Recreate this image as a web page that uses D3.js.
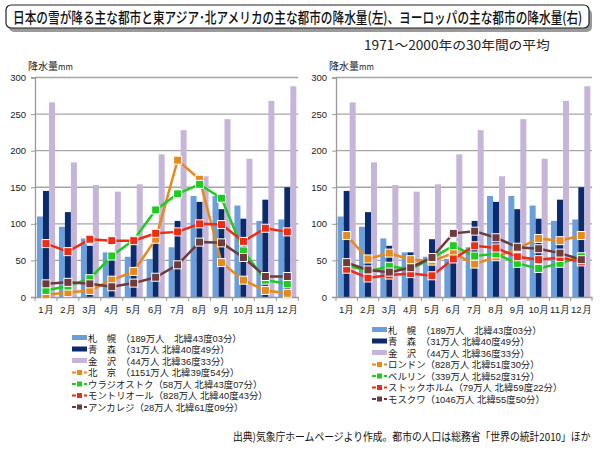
<!DOCTYPE html>
<html><head><meta charset="utf-8">
<script src="https://cdn.jsdelivr.net/npm/d3@7"></script>
<style>body{margin:0;background:#fff}svg{display:block;font-family:"Noto Sans CJK JP","Noto Sans",sans-serif}</style>
</head><body><svg id="c" width="600" height="450"></svg>
<script>
const months = ["1月","2月","3月","4月","5月","6月","7月","8月","9月","10月","11月","12月"];
const yTicks = [0,50,100,150,200,250,300];
// Bars (same in both charts)
const sapporo  = [110,96,80,61,55,52,68,138,138,125,104,106];
const aomori   = [145,116,70,61,79,74,104,130,120,107,133,150];
const kanazawa = [266,184,153,144,154,195,228,165,243,189,268,288];
// Left lines
const beijing  = [3,6,9,23,35,79,187,161,47,23,9,5];
const vladivostok = [9,15,25,56,78,119,141,154,135,63,23,18];
const montreal = [73,62,79,77,77,87,89,100,99,76,94,89];
const anchorage = [18,20,18,14,19,27,44,75,74,54,28,28];
// Right lines
const london = [84,52,60,51,49,60,45,55,66,80,77,84];
const berlin = [44,35,42,38,53,70,56,59,46,39,46,55];
const stockholm = [38,26,30,32,29,52,70,67,55,51,54,48];
const moscow = [47,37,34,40,54,87,90,81,68,66,60,51];

const barNames = ["札　幌　（189万人　北緯43度03分）","青　森　（31万人  北緯40度49分）","金　沢　（44万人  北緯36度33分）"];
const leftNames = ["北　京　（1151万人  北緯39度54分）","ウラジオストク（58万人  北緯43度07分）","モントリオール（828万人  北緯40度43分）","アンカレジ（28万人  北緯61度09分）"];
const rightNames = ["ロンドン（828万人  北緯51度30分）","ベルリン（339万人  北緯52度31分）","ストックホルム（79万人  北緯59度22分）","モスクワ（1046万人  北緯55度50分）"];

const barColors = ["#6a9fdc","#0b2c6c","#c4b5d9"];
const lineColors = ["#e8891e","#1ecb1e","#ee2c14","#6f3a3a"];

const svg = d3.select("#c");

function fitText(x, y, size, width, str, attrs){
  const t = svg.append("text").attr("x",0).attr("y",0).attr("font-size",size).text(str);
  Object.entries(attrs||{}).forEach(([k,v])=>t.attr(k,v));
  const w = t.node().getComputedTextLength();
  t.attr("transform",`translate(${x},${y}) scale(${width/w},1)`);
  return t;
}

// Title box
svg.append("rect").attr("x",9).attr("y",9).attr("width",583).attr("height",23).attr("rx",5).attr("fill","#9a9a9a");
svg.append("rect").attr("x",6).attr("y",5).attr("width",583).attr("height",23).attr("rx",5).attr("fill","#fff").attr("stroke","#222").attr("stroke-width",1.2);
fitText(13,22.5,15,570,"日本の雪が降る主な都市と東アジア･北アメリカの主な都市の降水量(左)、ヨーロッパの主な都市の降水量(右)",{"font-weight":500,"fill":"#111"});
fitText(364,50,12.5,186,"1971～2000年の30年間の平均",{"fill":"#222"});

function chart(x0,x1,lines,names,legX,legY){
  const x = d3.scaleBand().domain(months).range([x0,x1]);
  const y = d3.scaleLinear().domain([0,300]).range([297,77.5]);
  const g = svg.append("g");
  g.selectAll(".grid").data(yTicks.filter(d=>d>0)).join("line")
    .attr("x1",x0).attr("x2",x1).attr("y1",d=>y(d)).attr("y2",d=>y(d))
    .attr("stroke","#a6a6a6").attr("stroke-width",1.3);
  const bw = 6;
  [sapporo,aomori,kanazawa].forEach((arr,i)=>{
    g.selectAll(null).data(arr).join("rect")
      .attr("x",(d,j)=>x(months[j])+x.bandwidth()/2-9+i*bw)
      .attr("width",bw).attr("y",d=>y(d)).attr("height",d=>y(0)-y(d))
      .attr("fill",barColors[i]);
  });
  const ya = d3.axisLeft(y).tickValues(yTicks).tickSize(4).tickPadding(5);
  const yg = g.append("g").attr("transform",`translate(${x0},0)`).call(ya);
  yg.select(".domain").attr("stroke","#999").attr("stroke-width",1.3);
  yg.selectAll(".tick line").attr("stroke","#999");
  yg.selectAll("text").attr("font-size",9.5).attr("fill","#222").attr("font-family","Liberation Sans, Arial, sans-serif");
  const xa = d3.axisBottom(x).tickSize(0).tickPadding(9);
  const xg = g.append("g").attr("transform","translate(0,297)").call(xa);
  xg.select(".domain").attr("stroke","#999").attr("stroke-width",1.3);
  xg.selectAll("text").attr("font-size",9.5).attr("fill","#222");
  g.selectAll(null).data(d3.range(13)).join("line")
    .attr("x1",i=>x0+i*x.step()).attr("x2",i=>x0+i*x.step()).attr("y1",297).attr("y2",301)
    .attr("stroke","#999");
  const yl = g.append("text").attr("x",x0-7).attr("y",70).attr("fill","#222");
  yl.append("tspan").attr("font-size",10).text("降水量");
  yl.append("tspan").attr("font-size",8).text("mm");
  const line = d3.line().x((d,j)=>x(months[j])+x.bandwidth()/2).y(d=>y(d));
  lines.forEach((arr,i)=>{
    g.append("path").datum(arr).attr("d",line).attr("fill","none").attr("stroke",lineColors[i]).attr("stroke-width",2.5);
    g.selectAll(null).data(arr).join("rect")
      .attr("x",(d,j)=>x(months[j])+x.bandwidth()/2-4).attr("y",d=>y(d)-4)
      .attr("width",8).attr("height",8).attr("fill",lineColors[i]).attr("stroke","#fff").attr("stroke-width",1);
  });
  const lg = svg.append("g").attr("font-size",9.4).attr("fill","#222")
    .attr("font-family","'Liberation Sans','Noto Sans CJK JP',sans-serif");
  const all = barNames.concat(names);
  all.forEach((n,i)=>{
    const yy = legY + i*11.5;
    if(i<3){
      lg.append("rect").attr("x",legX).attr("y",yy-3).attr("width",15).attr("height",5).attr("fill",barColors[i]);
    } else {
      const c = lineColors[i-3];
      lg.append("line").attr("x1",legX).attr("x2",legX+15).attr("y1",yy).attr("y2",yy).attr("stroke",c).attr("stroke-width",2).attr("stroke-dasharray","4,2");
      lg.append("rect").attr("x",legX+5).attr("y",yy-2.5).attr("width",5).attr("height",5).attr("fill",c);
    }
    lg.append("text").attr("x",legX+16).attr("y",yy+3.5).text(n);
  });
}
chart(35,298.3,[beijing,vladivostok,montreal,anchorage],leftNames,72,338);
chart(336,592,[london,berlin,stockholm,moscow],rightNames,372,330);

fitText(233,441,11,358,"出典)気象庁ホームページより作成。都市の人口は総務省「世界の統計2010」ほか",{"fill":"#111"});
</script></body></html>
